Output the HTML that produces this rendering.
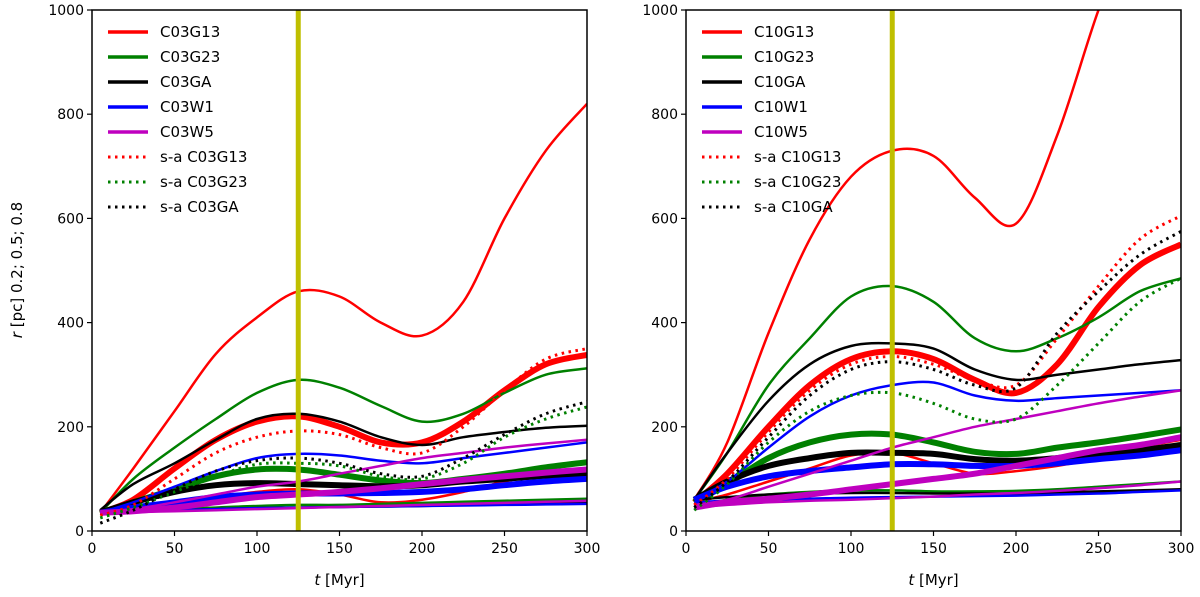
<!DOCTYPE html>
<html><head><meta charset="utf-8"><style>
body{margin:0;background:#fff;}
svg{display:block;font-family:"DejaVu Sans","Liberation Sans",sans-serif;}
</style></head><body>
<svg id="chart" width="1200" height="597" viewBox="0 0 1200 597" xmlns="http://www.w3.org/2000/svg"></svg>
<script>
const times=[5,25,50,75,100,125,150,175,200,225,250,275,300];
const xTicks=[0,50,100,150,200,250,300];
const yTicks=[0,200,400,600,800,1000];
const markerT=125;
// left panel (C03)
const C03G13=[[35,40,55,65,75,80,70,55,60,75,95,110,120],[35,60,120,175,210,220,200,170,170,210,270,320,338],[35,120,230,340,410,460,450,400,375,440,600,730,820]];
const C03G23=[[35,38,42,45,48,50,50,52,54,56,58,60,62],[35,55,80,105,118,118,108,97,92,100,110,122,132],[35,100,160,215,265,290,275,240,210,225,265,300,312]];
const C03GA=[[35,38,40,42,44,45,46,47,48,50,52,54,55],[35,55,75,88,92,90,88,86,88,95,100,106,110],[40,90,130,175,215,225,210,180,165,180,190,198,202]];
const C03W1=[[35,37,40,42,44,45,46,47,48,49,50,51,52],[35,45,55,65,70,72,72,73,75,80,88,95,100],[35,55,85,115,140,148,145,135,130,140,150,160,170]];
const C03W5=[[35,36,38,40,42,44,46,48,50,52,54,56,58],[35,38,45,55,65,70,75,82,90,98,105,112,118],[35,42,55,70,85,95,110,125,140,150,160,168,175]];
const saC03G13=[30,50,100,150,180,192,185,160,150,200,270,330,350];
const saC03G23=[25,45,75,105,128,130,125,105,100,130,180,215,238];
const saC03GA=[15,40,80,115,135,140,130,110,105,140,185,225,248];
// right panel (C10)
const C10G13=[[55,70,95,120,145,150,130,110,115,125,140,160,175],[55,110,200,280,330,345,330,290,265,320,430,510,550],[60,170,380,560,680,730,720,640,590,760,1000,1200,1400]];
const C10G23=[[50,60,70,75,78,78,76,76,77,80,85,90,95],[55,90,140,170,185,185,170,152,148,160,170,182,195],[60,150,280,370,450,470,440,370,345,370,410,460,485]];
const C10GA=[[60,65,70,72,73,73,72,72,72,74,76,78,80],[60,95,125,140,150,150,148,138,135,140,148,155,165],[60,150,250,320,355,360,350,310,290,300,310,320,328]];
const C10W1=[[55,58,60,62,64,65,66,67,68,70,72,75,78],[60,85,105,115,122,128,128,125,125,130,138,145,155],[60,95,160,220,260,280,285,260,250,255,260,265,270]];
const C10W5=[[45,50,55,58,60,63,66,70,73,77,82,88,95],[45,55,62,70,80,90,100,110,125,140,155,165,180],[50,60,85,110,135,160,180,200,215,230,245,258,270]];
const saC10G13=[50,100,190,270,320,335,320,290,280,370,470,560,605];
const saC10G23=[40,90,170,230,260,265,245,215,215,280,360,440,485];
const saC10GA=[45,95,180,260,310,325,310,280,275,380,460,530,575];

const NS="http://www.w3.org/2000/svg";
const svg=document.getElementById('chart');
function mk(tag,attrs,parent){const e=document.createElementNS(NS,tag);for(const k in attrs)e.setAttribute(k,attrs[k]);(parent||svg).appendChild(e);return e;}
const Y0=531,Y1=10;
function yS(v){return Y0-(v/1000)*(Y0-Y1);}
function pathD(xs,ys){let d='M'+xs[0]+','+ys[0];for(let i=0;i<xs.length-1;i++){const p0=i>0?i-1:i,p3=i+2<xs.length?i+2:i+1;const c1x=xs[i]+(xs[i+1]-xs[p0])/6,c1y=ys[i]+(ys[i+1]-ys[p0])/6;const c2x=xs[i+1]-(xs[p3]-xs[i])/6,c2y=ys[i+1]-(ys[p3]-ys[i])/6;d+=' C'+c1x.toFixed(1)+','+c1y.toFixed(1)+' '+c2x.toFixed(1)+','+c2y.toFixed(1)+' '+xs[i+1].toFixed(1)+','+ys[i+1].toFixed(1);}return d;}
const colors={G13:'#ff0000',G23:'#008000',GA:'#000000',W1:'#0000ff',W5:'#bf00bf'};

function panel(id,X0,X1,series,sa,prefix,showYLabel){
  const xS=t=>X0+(t/300)*(X1-X0);
  const g=mk('g',{});
  
  
  const cp=mk('clipPath',{id:'clip-'+id},g);mk('rect',{x:X0,y:Y1,width:X1-X0,height:Y0-Y1},cp);
  const plot=mk('g',{'clip-path':'url(#clip-'+id+')'},g);
  const xs=times.map(xS);
  const keys=['G13','G23','GA','W1','W5'];
  // draw thick mid lines then thin
  keys.forEach(k=>{const s=series[k];[0,1,2].forEach(j=>{
    const p=mk('path',{d:pathD(xs,s[j].map(yS)),fill:'none',stroke:colors[k],'stroke-width':j===1?6:2.5,'stroke-linejoin':'round'},plot);
    
    });});
  ['G13','G23','GA'].forEach(k=>{
    const p=mk('path',{d:pathD(xs,sa[k].map(yS)),fill:'none',stroke:colors[k],'stroke-width':3,'stroke-dasharray':'2.5,4.5'},plot);
    
    });
  const vl=mk('line',{x1:xS(markerT),x2:xS(markerT),y1:Y1,y2:Y0,stroke:'#bfbf00','stroke-width':5},g);
  
  
  const fr=mk('rect',{x:X0,y:Y1,width:X1-X0,height:Y0-Y1,fill:'none',stroke:'#000','stroke-width':1.5},g);
  
  
  xTicks.forEach(t=>{const x=xS(t);mk('line',{x1:x,x2:x,y1:Y0,y2:Y0+5,stroke:'#000','stroke-width':1.2},g);
    const tx=mk('text',{x:x,y:Y0+22,'text-anchor':'middle','font-size':14},g);tx.textContent=t;
    
    });
  yTicks.forEach(v=>{const y=yS(v);mk('line',{x1:X0-5,x2:X0,y1:y,y2:y,stroke:'#000','stroke-width':1.2},g);
    const tx=mk('text',{x:X0-8,y:y+5,'text-anchor':'end','font-size':14},g);tx.textContent=v;
    
    });
  const xl=mk('text',{x:(X0+X1)/2,y:585,'text-anchor':'middle','font-size':15},g);
  xl.innerHTML='<tspan font-style="italic">t</tspan> [Myr]';
  
  
  if(showYLabel){const yl=mk('text',{x:0,y:0,'text-anchor':'middle','font-size':15,transform:'translate(22,270) rotate(-90)'},g);
    yl.innerHTML='<tspan font-style="italic">r</tspan> [pc] 0.2; 0.5; 0.8';
    
    }
  const leg=mk('g',{},g);
  
  
  const entries=[['G13',0],['G23',0],['GA',0],['W1',0],['W5',0],['G13',1],['G23',1],['GA',1]];
  entries.forEach((e,i)=>{const y=32+i*25;const lx=X0+16;
    const ln=mk('line',{x1:lx,x2:lx+40,y1:y,y2:y,stroke:colors[e[0]],'stroke-width':e[1]?3:3.5,'stroke-dasharray':e[1]?'2.5,4.5':'none'},leg);
    
    
    const tx=mk('text',{x:lx+52,y:y+5,'font-size':15},leg);tx.textContent=(e[1]?'s-a ':'')+prefix+e[0];
    
    });
}
panel('panel-c03',92,587,{G13:C03G13,G23:C03G23,GA:C03GA,W1:C03W1,W5:C03W5},{G13:saC03G13,G23:saC03G23,GA:saC03GA},'C03',true);
panel('panel-c10',686,1181,{G13:C10G13,G23:C10G23,GA:C10GA,W1:C10W1,W5:C10W5},{G13:saC10G13,G23:saC10G23,GA:saC10GA},'C10',false);
</script>
</body></html>
